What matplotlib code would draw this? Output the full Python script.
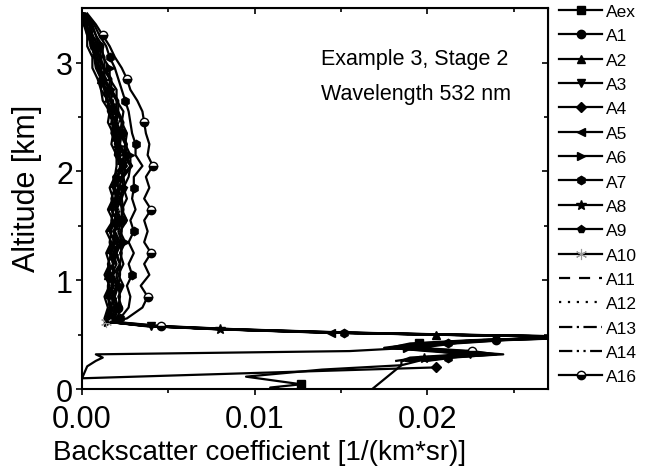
import numpy as np
import matplotlib.pyplot as plt

plt.rcParams['font.family'] = ['Liberation Sans', 'DejaVu Sans']

# altitude grids [km]
alt_upper = [3.45, 3.35, 3.25, 3.15, 3.05, 2.95, 2.85, 2.75, 2.65, 2.55,
             2.45, 2.35, 2.25, 2.15, 2.05, 1.95, 1.85, 1.75, 1.65, 1.55,
             1.45, 1.35, 1.25, 1.15, 1.05, 0.95, 0.85, 0.75, 0.65]
alt_peak = [0.62, 0.58, 0.55, 0.52, 0.50, 0.48, 0.45, 0.42, 0.38, 0.35,
            0.32, 0.29, 0.26]

# backscatter values in 1e-3 1/(km*sr), one per altitude
aex = [0.0, 0.1, 0.3, 0.3, 0.6, 0.6, 0.9, 1.1, 1.2, 1.6, 1.5, 1.8, 1.7, 2.0, 2.0,
       1.9, 1.6, 1.8, 1.5, 1.8, 1.4, 1.7, 1.4, 1.6, 1.3, 1.6, 1.3, 1.5, 1.3,
       1.4, 3.8, 8.2, 14.5, 21.0, 29.0, 23.0, 19.5, 17.5, 20.5, 22.0, 19.0, 18.5]
a1 = [0.1, 0.5, 0.8, 1.0, 1.3, 1.3, 1.7, 1.7, 2.1, 2.1, 2.4, 2.3, 2.6, 2.5, 2.9,
      2.4, 2.5, 2.3, 2.4, 2.3, 2.3, 2.2, 2.3, 2.2, 2.2, 2.1, 2.2, 2.1, 1.9,
      1.6, 4.2, 8.6, 15.0, 21.5, 29.5, 24.0, 20.5, 18.5, 21.5, 23.5, 20.5, 19.0]
a2 = [0.0, 0.3, 0.4, 0.7, 0.7, 1.0, 1.1, 1.4, 1.5, 1.7, 1.9, 1.8, 2.1, 2.0, 2.4,
      2.0, 1.8, 2.1, 1.7, 2.0, 1.6, 1.9, 1.7, 1.8, 1.5, 1.8, 1.5, 1.7, 1.5,
      1.4, 3.6, 7.8, 13.8, 20.5, 28.5, 23.5, 20.0, 18.0, 21.0, 23.0, 20.0, 18.8]
a3 = [0.1, 0.4, 0.6, 0.9, 1.0, 1.3, 1.3, 1.7, 1.7, 2.1, 2.0, 2.3, 2.2, 2.5, 2.5,
      2.4, 2.1, 2.3, 2.0, 2.3, 1.9, 2.2, 1.9, 2.2, 1.8, 2.1, 1.8, 2.0, 1.7,
      1.5, 4.0, 8.0, 14.2, 20.8, 28.8, 22.5, 19.0, 17.8, 20.0, 22.5, 19.5, 18.2]
a4 = [0.0, 0.2, 0.6, 0.6, 0.9, 1.0, 1.3, 1.3, 1.7, 1.7, 2.0, 1.9, 2.2, 2.1, 2.5,
      2.0, 2.1, 1.9, 2.0, 1.9, 1.9, 1.8, 1.9, 1.8, 1.8, 1.7, 1.8, 1.7, 1.6,
      1.5, 4.1, 8.4, 14.8, 21.2, 29.2, 23.8, 21.0, 19.0, 15.5, 0.8, 1.2, 0.8]
a5 = [0.0, 0.2, 0.3, 0.6, 0.7, 0.8, 1.1, 1.1, 1.5, 1.5, 1.8, 1.7, 2.0, 1.9, 2.3,
      1.8, 1.9, 1.7, 1.8, 1.7, 1.7, 1.6, 1.7, 1.5, 1.6, 1.5, 1.5, 1.6, 1.4,
      1.4, 3.9, 8.1, 14.4, 20.9, 29.1, 23.2, 20.2, 18.2, 20.8, 22.8, 20.2, 19.5]
a6 = [0.1, 0.6, 0.8, 1.2, 1.2, 1.6, 1.6, 2.0, 2.0, 2.4, 2.3, 2.6, 2.5, 2.8, 2.8,
      2.7, 2.4, 2.6, 2.3, 2.6, 2.2, 2.5, 2.2, 2.4, 2.1, 2.4, 2.1, 2.3, 2.0,
      1.5, 3.7, 8.3, 14.6, 21.3, 28.7, 22.8, 21.5, 18.8, 21.8, 24.4, 21.0, 19.2]
a7 = [0.2, 0.7, 1.0, 1.4, 1.6, 1.9, 2.1, 2.3, 2.5, 2.7, 2.8, 2.9, 3.1, 3.1, 3.5,
      3.0, 3.0, 2.9, 3.1, 2.8, 3.0, 2.7, 3.0, 2.7, 2.9, 2.6, 2.8, 2.7, 2.2,
      1.7, 4.4, 8.8, 15.2, 21.8, 29.8, 24.2, 21.2, 19.2, 22.2, 23.8, 21.2, 19.8]
a8 = [0.0, 0.4, 0.6, 0.7, 1.0, 1.1, 1.2, 1.6, 1.6, 2.0, 1.9, 2.2, 2.1, 2.4, 2.4,
      2.3, 1.9, 2.2, 1.9, 2.2, 1.8, 2.1, 1.8, 2.0, 1.7, 2.0, 1.7, 1.9, 1.7,
      1.4, 3.8, 8.0, 14.0, 20.6, 28.6, 23.1, 19.8, 17.9, 20.6, 22.6, 19.8, 18.6]
a9 = [0.1, 0.5, 0.6, 1.0, 1.1, 1.2, 1.6, 1.6, 2.0, 2.0, 2.3, 2.2, 2.5, 2.4, 2.8,
      2.3, 2.4, 2.2, 2.3, 2.3, 2.1, 2.3, 2.0, 2.2, 2.0, 2.1, 1.9, 2.1, 1.8,
      1.5, 4.0, 8.4, 14.6, 21.1, 29.0, 23.6, 20.6, 18.6, 21.2, 23.2, 20.6, 19.1]
a10 = [0.0, 0.2, 0.5, 0.5, 0.8, 0.9, 1.1, 1.4, 1.4, 1.8, 1.7, 2.0, 1.9, 2.2, 2.2,
       2.1, 1.8, 2.0, 1.7, 2.0, 1.6, 1.9, 1.6, 1.8, 1.5, 1.8, 1.5, 1.7, 1.5,
       1.4, 3.9, 8.2, 14.4, 20.9, 29.0, 23.3, 20.1, 18.1, 20.9, 23.0, 20.1, 18.9]
a11 = [0.0, 0.3, 0.4, 0.8, 0.7, 1.1, 1.1, 1.5, 1.5, 1.9, 1.8, 2.1, 2.0, 2.3, 2.3,
       2.2, 1.9, 2.1, 1.8, 2.1, 1.7, 2.0, 1.7, 1.9, 1.6, 1.9, 1.6, 1.8, 1.5,
       1.5, 4.0, 8.3, 14.5, 21.0, 28.9, 23.4, 20.3, 18.3, 21.0, 23.1, 20.3, 19.0]
a12 = [0.1, 0.3, 0.7, 0.8, 1.1, 1.1, 1.5, 1.5, 1.9, 1.9, 2.2, 2.1, 2.4, 2.3, 2.7,
       2.2, 2.3, 2.1, 2.2, 2.0, 2.1, 2.0, 2.1, 1.9, 2.0, 1.9, 2.0, 1.8, 1.7,
       1.4, 3.9, 8.1, 14.3, 20.8, 28.8, 23.0, 20.0, 18.0, 20.7, 22.9, 20.0, 18.7]
a13 = [0.0, 0.1, 0.4, 0.5, 0.7, 0.9, 1.0, 1.3, 1.3, 1.7, 1.6, 1.9, 1.8, 2.1, 2.1,
       2.0, 1.7, 1.9, 1.6, 1.9, 1.5, 1.8, 1.5, 1.7, 1.4, 1.7, 1.4, 1.6, 1.4,
       1.5, 3.8, 8.2, 14.4, 21.0, 29.0, 23.2, 20.4, 18.4, 21.1, 23.0, 20.2, 18.9]
a14 = [0.0, 0.4, 0.5, 0.8, 1.0, 1.0, 1.4, 1.4, 1.8, 1.8, 2.1, 2.0, 2.3, 2.2, 2.6,
       2.1, 2.2, 2.0, 2.1, 2.0, 2.0, 1.9, 2.0, 1.8, 1.9, 1.8, 1.9, 1.8, 1.6,
       1.4, 3.9, 8.3, 14.5, 21.0, 29.1, 23.3, 20.2, 18.2, 20.9, 23.1, 20.2, 18.9]
a16 = [0.3, 0.8, 1.2, 1.6, 1.9, 2.3, 2.6, 2.8, 3.2, 3.5, 3.6, 3.7, 3.9, 3.8, 4.1,
       3.7, 3.9, 3.6, 4.0, 3.6, 3.8, 3.6, 4.0, 3.6, 3.9, 3.4, 3.8, 3.5, 2.6,
       1.8, 4.6, 9.0, 15.5, 22.0, 30.0, 24.5, 21.6, 19.5, 22.6, 24.0, 21.5, 20.0]

# near-ground tails of a few profiles
aex_tail_alt = [0.22, 0.18, 0.115, 0.045, 0.015, 0.0]
aex_tail = [18.5, 13.9, 9.5, 12.7, 10.9, 11.5]
a4_tail_alt = [0.21, 0.10, 0.20]
a4_tail = [0.3, 0.0, 20.5]
a5_tail_alt = [0.22, 0.0]
a5_tail = [18.5, 16.8]

labels = ['Aex', 'A1', 'A2', 'A3', 'A4', 'A5', 'A6', 'A7', 'A8', 'A9',
          'A10', 'A11', 'A12', 'A13', 'A14', 'A16']

alt = alt_upper + alt_peak
profiles = [aex + aex_tail, a1, a2, a3, a4 + a4_tail, a5 + a5_tail, a6, a7, a8,
            a9, a10, a11, a12, a13, a14, a16]
alts = [alt + aex_tail_alt, alt, alt, alt, alt + a4_tail_alt, alt + a5_tail_alt,
        alt, alt, alt, alt, alt, alt, alt, alt, alt, alt]

styles = [
    dict(marker='s'), dict(marker='o'), dict(marker='^'), dict(marker='v'),
    dict(marker='D', markersize=5), dict(marker='<'), dict(marker='>'),
    dict(marker='h'), dict(marker='*', markersize=7), dict(marker='p'),
    dict(marker=(6, 2, 0), markeredgecolor='#999999', markersize=8,
         markeredgewidth=0.8),
    dict(linestyle=(0, (5, 4))), dict(linestyle=(0, (1, 3))),
    dict(linestyle=(0, (6, 2, 1, 2))), dict(linestyle=(0, (6, 2, 1, 2, 1, 2))),
    dict(marker='o', fillstyle='bottom', markerfacecoloralt='white'),
]
mark_every = [(36, 9), (3, 8), (6, 9), (30, 9), (44, 40), (32, 40),
              (5, 8), (4, 4), (31, 9), (7, 9), (29, 40), 1, 1, 1, 1,
              (2, 4)]

fig = plt.figure(figsize=(6.51, 4.77), dpi=100)
ax = fig.add_axes([0.126, 0.182, 0.716, 0.799])

for x, y, lab, st, me in zip(profiles, alts, labels, styles, mark_every):
    kw = dict(color='black', linewidth=1.6, markersize=6, linestyle='-')
    kw.update(st)
    ax.plot(np.array(x) * 1e-3, y, label=lab, markevery=me, **kw)

ax.set_xlim(0, 0.027)
ax.set_ylim(0, 3.5)
ax.set_xticks([0.0, 0.01, 0.02])
ax.set_xticklabels(['0.00', '0.01', '0.02'])
ax.set_xticks([0.005, 0.015, 0.025], minor=True)
ax.set_yticks([0, 1, 2, 3])
ax.set_yticks([0.5, 1.5, 2.5], minor=True)
ax.tick_params(which='major', direction='out', length=4.5, width=1.2,
               labelsize=22, pad=2)
ax.tick_params(axis='x', which='major', pad=6)
ax.tick_params(which='minor', direction='out', length=3, width=1.2)
for s in ax.spines.values():
    s.set_linewidth(1.5)

top = ax.secondary_xaxis('top')
top.set_xticks([0.0, 0.01, 0.02])
top.set_xticks([0.005, 0.015, 0.025], minor=True)
top.tick_params(which='major', direction='in', length=4.5, width=1.2,
                labeltop=False)
top.tick_params(which='minor', direction='in', length=3, width=1.2)
right = ax.secondary_yaxis('right')
right.set_yticks([0, 1, 2, 3])
right.set_yticks([0.5, 1.5, 2.5], minor=True)
right.tick_params(which='major', direction='in', length=4.5, width=1.2,
                  labelright=False)
right.tick_params(which='minor', direction='in', length=3, width=1.2)

ax.set_xlabel('Backscatter coefficient [1/(km*sr)]', fontsize=20, ha='left')
ax.xaxis.set_label_coords(-0.062, -0.13)
ax.set_ylabel('Altitude [km]', fontsize=22)
ax.yaxis.set_label_coords(-0.086, 0.53)

ax.text(0.513, 0.868, 'Example 3, Stage 2', transform=ax.transAxes,
        fontsize=15.5, va='center')
ax.text(0.513, 0.776, 'Wavelength 532 nm', transform=ax.transAxes,
        fontsize=15.5, va='center')

leg = ax.legend(loc='upper left', bbox_to_anchor=(1.016, 1.02), frameon=False,
                fontsize=12.5, handlelength=2.5, handletextpad=0.2,
                labelspacing=0.53, borderaxespad=0.0, borderpad=0.2)

fig.savefig('out.png', dpi=100)
